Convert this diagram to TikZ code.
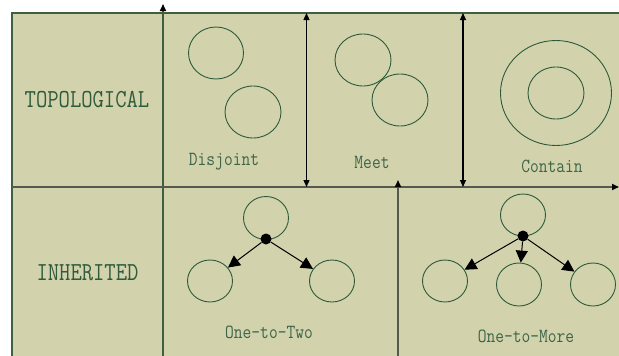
\documentclass[tikz,border=0pt]{standalone}
\usetikzlibrary{shapes.geometric,arrows.meta}
\definecolor{bgfill}{HTML}{D2D3AD}
\definecolor{frame}{HTML}{3F5F40}
\definecolor{txt}{HTML}{2F5A3C}
\definecolor{stxt}{HTML}{3E6448}
\definecolor{circ}{HTML}{2D5A3A}
\definecolor{gline}{HTML}{555A50}
\newcommand{\tallbox}[1]{\scalebox{1}[1.18]{#1}}
\begin{document}
\begin{tikzpicture}[x=1pt,y=-1pt,
  ring/.style={draw=circ,line width=0.9pt,ellipse,inner sep=0pt},
  bigtxt/.style={text=txt,font=\ttfamily\fontsize{22}{24}\selectfont,inner sep=0pt},
  smalltxt/.style={text=stxt,font=\ttfamily\fontsize{17}{20}\selectfont,inner sep=0pt},
  dbl/.style={draw=black,line width=1.2pt,{Triangle[length=7pt,width=6pt]}-{Triangle[length=7pt,width=6pt]}},
  uparrow/.style={line width=1.6pt,-{Triangle[length=7pt,width=6pt,color=black]}},
  treearrow/.style={draw=black,line width=1pt,-{Triangle[length=12pt,width=12pt]}},
  hub/.style={circle,fill=black,inner sep=0pt,minimum size=11pt}]
\useasboundingbox (0,0) rectangle (619,356);
\fill[bgfill] (12,13) rectangle (619,356);
\coordinate (tl) at (12,13);
\coordinate (tr) at (619,13);
\coordinate (bl) at (12,356);
\draw[frame,line width=1.8pt] (tr) -- (tl) -- (bl);
% main separators
\coordinate (vbot) at (163,356);
\coordinate (vtop) at (163,4);
\draw[frame,uparrow] (vbot) -- (vtop);
\coordinate (hl) at (12,187);
\coordinate (hr) at (619,187);
\draw[gline,uparrow] (hl) -- (hr);
\coordinate (a1t) at (306.5,13);
\coordinate (a1b) at (306.5,187);
\draw[dbl] (a1t) -- (a1b);
\coordinate (a2t) at (463,13);
\coordinate (a2b) at (463,187);
\draw[dbl] (a2t) -- (a2b);
\coordinate (a3b) at (398,356);
\coordinate (a3t) at (398,180);
\draw[gline,uparrow] (a3b) -- (a3t);
% labels
\node[bigtxt] (topo) at (87,100) {\tallbox{TOPOLOGICAL}};
\node[bigtxt] (inh) at (87.5,273) {\tallbox{INHERITED}};
\node[smalltxt] (disj) at (224,162) {\tallbox{Disjoint}};
\node[smalltxt] (meet) at (372,162) {\tallbox{Meet}};
\node[smalltxt] (cont) at (552,166) {\tallbox{Contain}};
\node[smalltxt] (ott) at (269,332) {\tallbox{One-to-Two}};
\node[smalltxt] (otm) at (526,336) {\tallbox{One-to-More}};
% topological circles
\node[ring,minimum width=55pt,minimum height=52pt] (d1) at (216,53) {};
\node[ring,minimum width=56pt,minimum height=52pt] (d2) at (253,112) {};
\node[ring,minimum width=56pt,minimum height=52pt] (m1) at (363,60) {};
\node[ring,minimum width=56pt,minimum height=52pt] (m2) at (400,100) {};
\node[ring,minimum width=111pt,minimum height=105pt] (co) at (556,93) {};
\node[ring,minimum width=56pt,minimum height=52pt] (ci) at (556,93) {};
% one-to-two
\node[ring,minimum width=45pt,minimum height=43pt] (tt) at (266,218) {};
\node[hub] (h1) at (266,239) {};
\node[ring,minimum width=45pt,minimum height=42pt] (tl2) at (210,281) {};
\node[ring,minimum width=45pt,minimum height=42pt] (tr2) at (332,281) {};
\draw[treearrow] (h1) -- (tl2);
\draw[treearrow] (h1) -- (tr2);
% one-to-more
\node[ring,minimum width=45pt,minimum height=42pt] (mt) at (523,215) {};
\node[hub] (h2) at (523,236) {};
\node[ring,minimum width=45pt,minimum height=42pt] (ml) at (445,281) {};
\node[ring,minimum width=45pt,minimum height=43pt] (mm) at (519,284.5) {};
\node[ring,minimum width=45pt,minimum height=43pt] (mr) at (593,284.5) {};
\draw[treearrow] (h2) -- (ml);
\draw[treearrow] (h2) -- (mm);
\draw[treearrow] (h2) -- (mr);
\end{tikzpicture}
\end{document}
